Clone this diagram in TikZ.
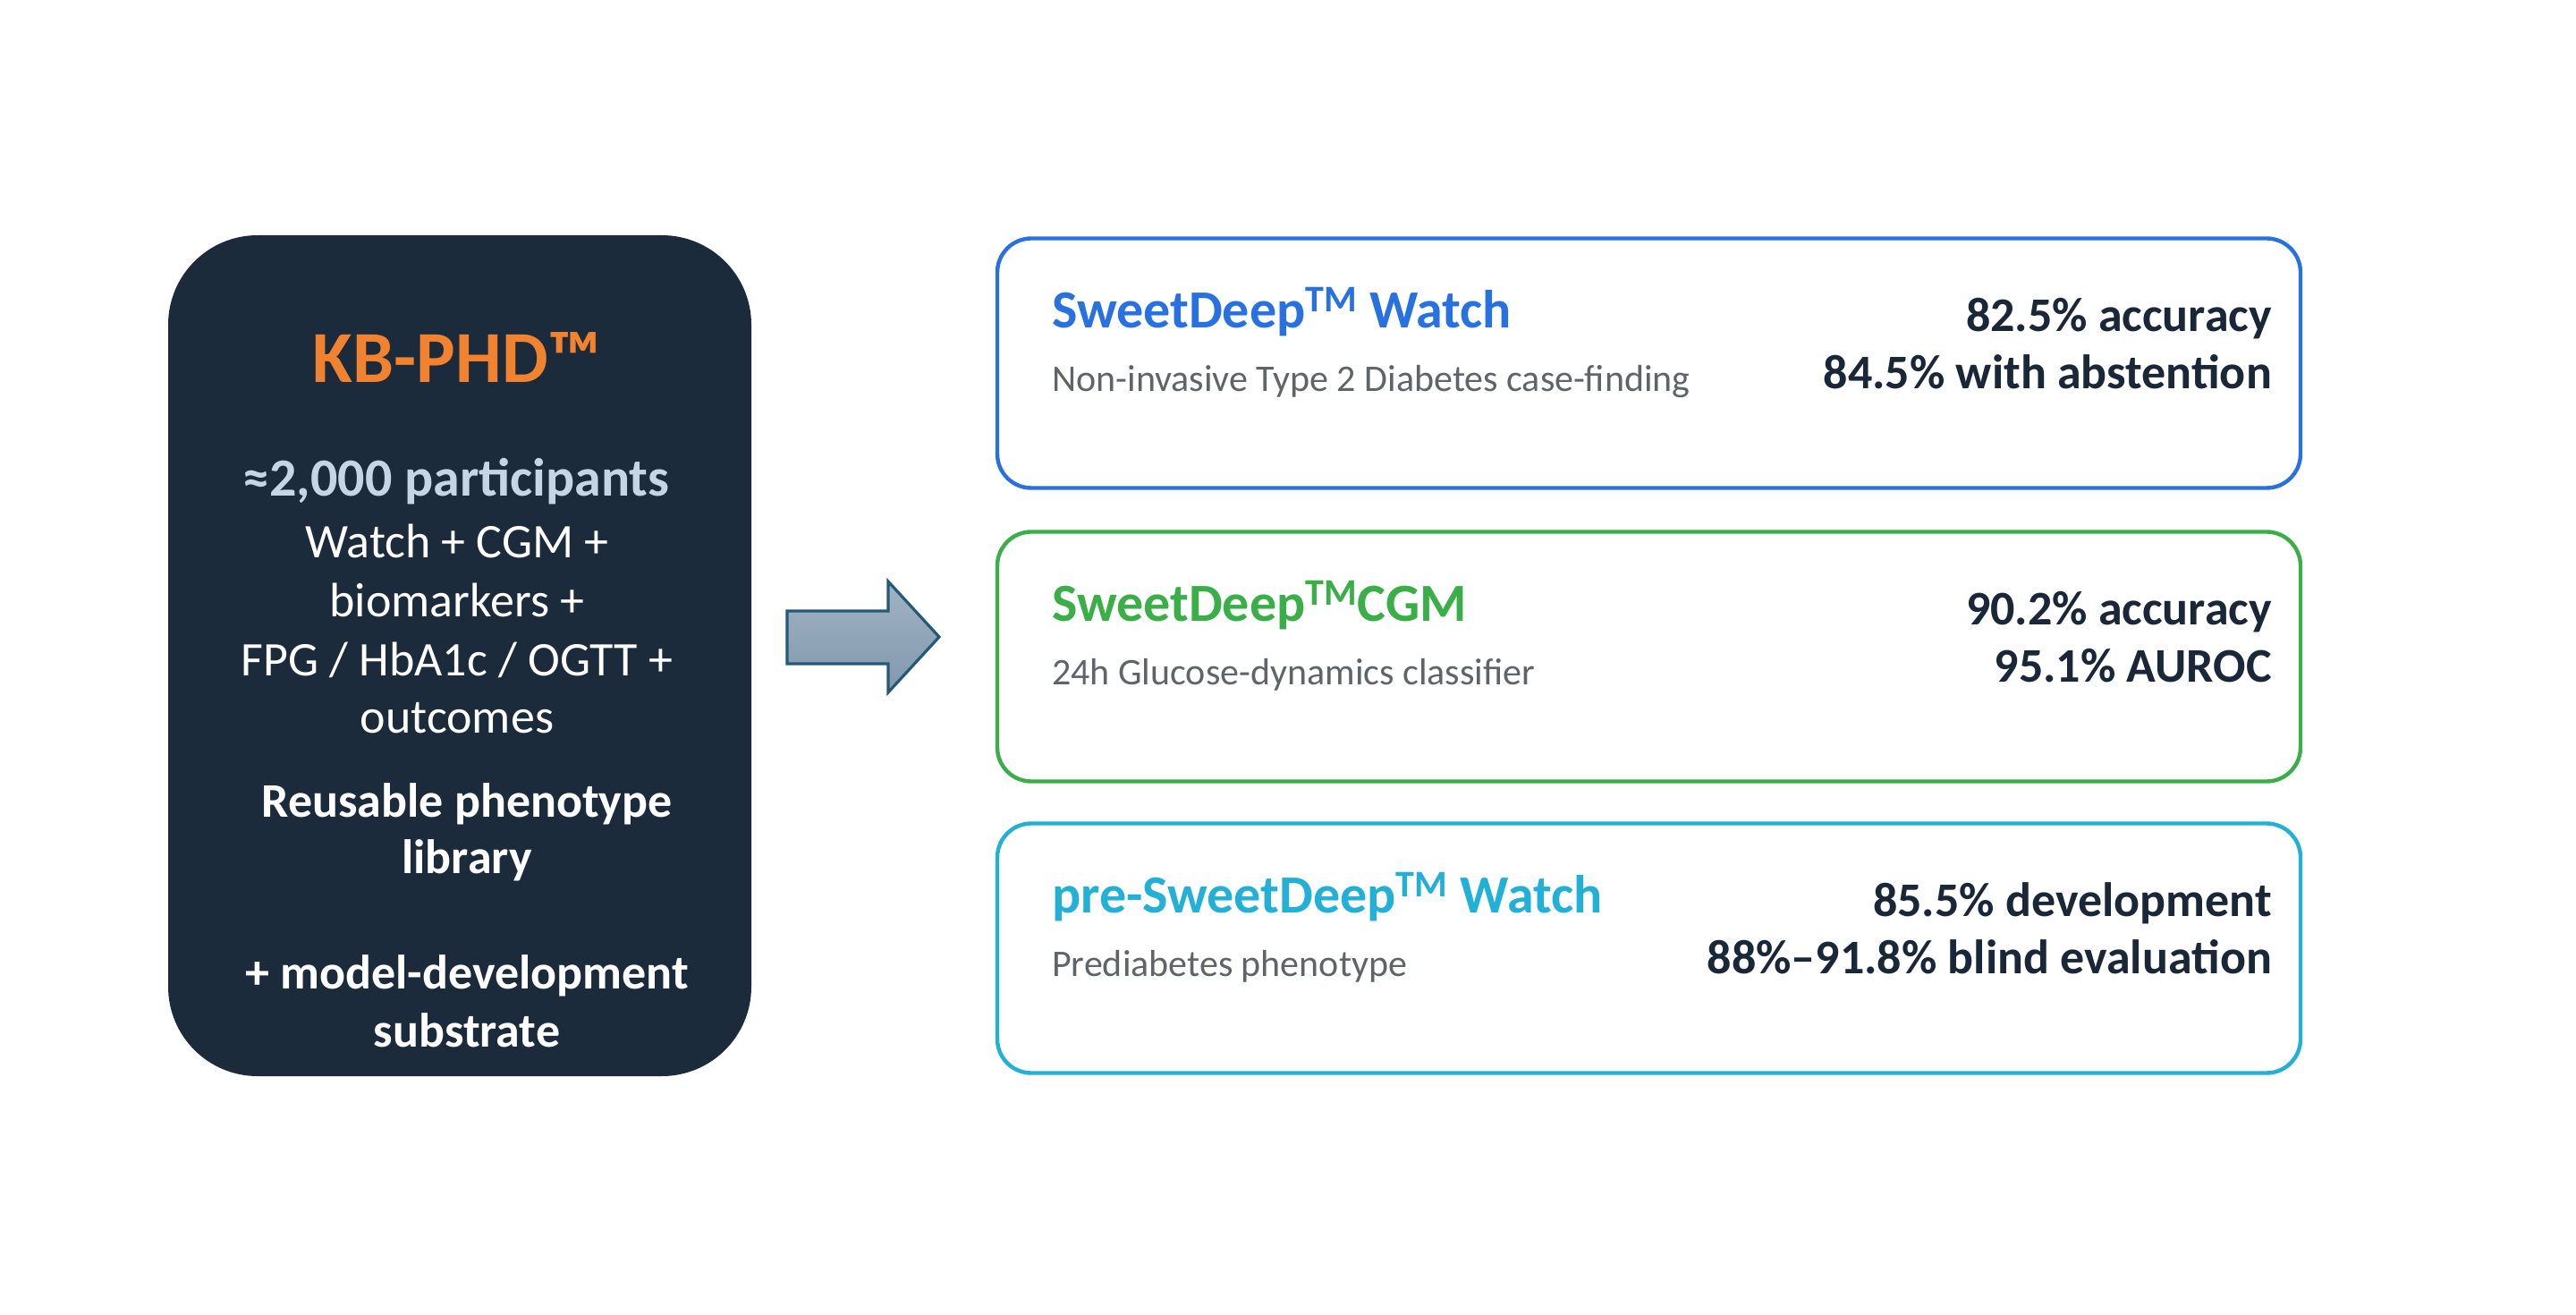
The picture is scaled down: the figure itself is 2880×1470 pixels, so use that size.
\documentclass[tikz,border=0pt]{standalone}
\usepackage{fontspec}
\setmainfont{Carlito}
\usetikzlibrary{calc}
\definecolor{darkbox}{HTML}{1C2B3B}
\definecolor{kborange}{HTML}{F08230}
\definecolor{partblue}{HTML}{C5D5E6}
\definecolor{cardblue}{HTML}{2871E0}
\definecolor{cardgreen}{HTML}{3AAF47}
\definecolor{cardcyan}{HTML}{22B0D6}
\definecolor{metric}{HTML}{1A2738}
\definecolor{subgray}{HTML}{5F6469}
\definecolor{arrowtop}{HTML}{A0B3C4}
\definecolor{arrowbot}{HTML}{8398AD}
\definecolor{arrowedge}{HTML}{245A78}
\tikzset{
  panel/.style={draw=none, fill=darkbox, rounded corners=50pt, minimum width=326pt, minimum height=470pt, inner sep=0pt},
  card/.style={draw=#1, fill=white, line width=2.2pt, rounded corners=19pt, minimum width=728.5pt, minimum height=139.5pt, inner sep=0pt},
  ptxt/.style={inner sep=0pt, anchor=base, text=white, font=\fontsize{27}{32}\selectfont},
  pbold/.style={ptxt, font=\fontsize{27}{32}\selectfont\bfseries},
  ctitle/.style={inner sep=0pt, anchor=base west, text=#1, font=\fontsize{30}{36}\selectfont\bfseries},
  csub/.style={inner sep=0pt, anchor=base west, text=subgray, font=\fontsize{21}{25}\selectfont},
  cmetric/.style={inner sep=0pt, anchor=base east, text=metric, font=\fontsize{27}{32}\selectfont\bfseries},
}
\begin{document}
\begin{tikzpicture}[x=0.5pt,y=-0.5pt]
\useasboundingbox (0,0) rectangle (2880,1470);
\fill[white] (0,0) rectangle (2880,1470);

% left panel
\node[panel] (panel) at (514,733) {};
\node[inner sep=0pt, anchor=base, text=kborange, font=\fontsize{41}{48}\selectfont\bfseries] (kb) at (511,428) {KB-PHD™};
\node[pbold, text=partblue, font=\fontsize{30}{36}\selectfont\bfseries] (part) at (510,555) {≈2,000 participants};
\node[ptxt] (l1) at (511,624) {Watch + CGM +};
\node[ptxt] (l2) at (511,689) {biomarkers +};
\node[ptxt] (l3) at (511,755) {FPG / HbA1c / OGTT +};
\node[ptxt] (l4) at (511,819) {outcomes};
\node[pbold] (l5) at (522,913) {Reusable phenotype};
\node[pbold] (l6) at (522,976) {library};
\node[pbold] (l7) at (522,1105) {+ model-development};
\node[pbold] (l8) at (522,1170) {substrate};

% arrow
\coordinate (a1) at (880,683);
\coordinate (a2) at (993,683);
\coordinate (a3) at (993,650);
\coordinate (a4) at (1050,712);
\coordinate (a5) at (993,774);
\coordinate (a6) at (993,742);
\coordinate (a7) at (880,742);
\path[draw=arrowedge, line width=1.6pt, top color=arrowtop, bottom color=arrowbot, line join=miter]
  (a1) -- (a2) -- (a3) -- (a4) -- (a5) -- (a6) -- (a7) -- cycle;

% cards
\node[card=cardblue] (c1) at (1843.5,406) {};
\node[card=cardgreen] (c2) at (1843.5,734) {};
\node[card=cardcyan] (c3) at (1843.5,1060) {};

\node[ctitle=cardblue] (t1) at ($(c1.north west)+(63,102)$) {SweetDeep\textsuperscript{TM} Watch};
\node[csub] (s1) at ($(c1.north west)+(63,173)$) {Non-invasive Type 2 Diabetes case-finding};
\node[cmetric] (m1a) at ($(c1.north east)+(-34,106)$) {82.5\% accuracy};
\node[cmetric] (m1b) at ($(c1.north east)+(-34,170)$) {84.5\% with abstention};

\node[ctitle=cardgreen] (t2) at ($(c2.north west)+(63,102)$) {SweetDeep\textsuperscript{TM}CGM};
\node[csub] (s2) at ($(c2.north west)+(63,173)$) {24h Glucose-dynamics classifier};
\node[cmetric] (m2a) at ($(c2.north east)+(-34,106)$) {90.2\% accuracy};
\node[cmetric] (m2b) at ($(c2.north east)+(-34,170)$) {95.1\% AUROC};

\node[ctitle=cardcyan] (t3) at ($(c3.north west)+(63,102)$) {pre-SweetDeep\textsuperscript{TM} Watch};
\node[csub] (s3) at ($(c3.north west)+(63,173)$) {Prediabetes phenotype};
\node[cmetric] (m3a) at ($(c3.north east)+(-34,106)$) {85.5\% development};
\node[cmetric] (m3b) at ($(c3.north east)+(-34,170)$) {88\%–91.8\% blind evaluation};
\end{tikzpicture}
\end{document}
